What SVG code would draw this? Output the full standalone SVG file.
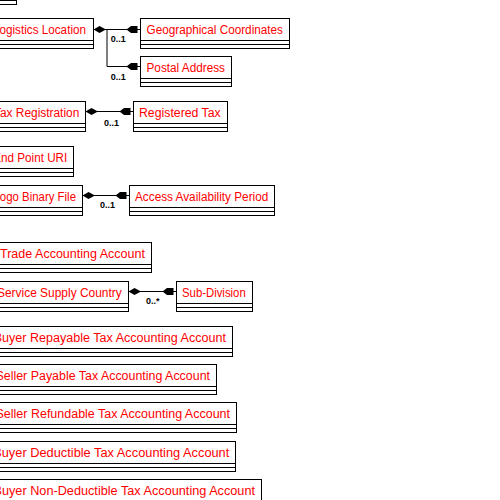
<svg xmlns="http://www.w3.org/2000/svg" width="500" height="500" viewBox="0 0 500 500">
  <style>
    .box{fill:#fff;stroke:#000;stroke-width:1}
    .sep{stroke:#000;stroke-width:1}
    .name{font-family:"Liberation Sans",Arial,sans-serif;font-size:12.5px;fill:#f00}
    .mult{font-family:"Liberation Sans",Arial,sans-serif;font-size:9px;font-weight:bold;fill:#000}
    .conn{fill:none;stroke:#000;stroke-width:1}
    .comp{marker-start:url(#diamond);marker-end:url(#arrow)}
    .nav{marker-end:url(#arrow)}
  </style>
  <defs>
    <!-- composition diamond at the owning class -->
    <marker id="diamond" markerUnits="userSpaceOnUse" markerWidth="16" markerHeight="10" refX="0" refY="0" orient="auto" overflow="visible">
      <path d="M0,0 L6,-3.5 L12.5,0 L6,3.5 Z" fill="#000"/>
    </marker>
    <!-- navigability head near the target class -->
    <marker id="arrow" markerUnits="userSpaceOnUse" markerWidth="16" markerHeight="10" refX="0" refY="0" orient="auto" overflow="visible">
      <path d="M-14,0 L-9.5,-3.5 L-3,-3.5 L-3,3.5 L-9.5,3.5 Z" fill="#000"/>
    </marker>
  </defs>
  <rect width="500" height="500" fill="#fff"/>

  <g id="connectors">
    <path class="conn comp" d="M93.5,29.5 H140.5"/>
    <path class="conn nav" d="M107,29.5 V66.5 H140.5"/>
    <path class="conn comp" d="M85.5,111.5 H133.5"/>
    <path class="conn comp" d="M82.5,195.5 H129.5"/>
    <path class="conn comp" d="M128.5,291.5 H176.5"/>
    <text class="mult" x="110.7" y="42">0..1</text>
    <text class="mult" x="110.7" y="79.5">0..1</text>
    <text class="mult" x="104" y="126">0..1</text>
    <text class="mult" x="100" y="207.5">0..1</text>
    <text class="mult" x="146" y="303.5">0..*</text>
  </g>

  <g id="node-top">
    <rect class="box" x="-60.5" y="-25.5" width="77" height="30"/>
    <line class="sep" x1="-60.5" y1="-3.5" x2="16.5" y2="-3.5"/>
    <line class="sep" x1="-60.5" y1="0.5" x2="16.5" y2="0.5"/>
  </g>

  <g id="logistics-location">
    <rect class="box" x="-99.5" y="18.5" width="193" height="30"/>
    <line class="sep" x1="-99.5" y1="40.5" x2="93.5" y2="40.5"/>
    <line class="sep" x1="-99.5" y1="44.5" x2="93.5" y2="44.5"/>
    <text class="name" x="-7" y="34" textLength="93" lengthAdjust="spacingAndGlyphs">Logistics Location</text>
  </g>

  <g id="geographical-coordinates">
    <rect class="box" x="140.5" y="18.5" width="149" height="30"/>
    <line class="sep" x1="140.5" y1="40.5" x2="289.5" y2="40.5"/>
    <line class="sep" x1="140.5" y1="44.5" x2="289.5" y2="44.5"/>
    <text class="name" x="146.5" y="34" textLength="136.5" lengthAdjust="spacingAndGlyphs">Geographical Coordinates</text>
  </g>

  <g id="postal-address">
    <rect class="box" x="140.5" y="56.5" width="91" height="30"/>
    <line class="sep" x1="140.5" y1="78.5" x2="231.5" y2="78.5"/>
    <line class="sep" x1="140.5" y1="82.5" x2="231.5" y2="82.5"/>
    <text class="name" x="146.5" y="72" textLength="78.5" lengthAdjust="spacingAndGlyphs">Postal Address</text>
  </g>

  <g id="tax-registration">
    <rect class="box" x="-99.5" y="101.5" width="185" height="30"/>
    <line class="sep" x1="-99.5" y1="123.5" x2="85.5" y2="123.5"/>
    <line class="sep" x1="-99.5" y1="127.5" x2="85.5" y2="127.5"/>
    <text class="name" x="-6" y="117" textLength="85.3" lengthAdjust="spacingAndGlyphs">Tax Registration</text>
  </g>

  <g id="registered-tax">
    <rect class="box" x="133.5" y="101.5" width="94" height="30"/>
    <line class="sep" x1="133.5" y1="123.5" x2="227.5" y2="123.5"/>
    <line class="sep" x1="133.5" y1="127.5" x2="227.5" y2="127.5"/>
    <text class="name" x="139" y="117" textLength="81.7" lengthAdjust="spacingAndGlyphs">Registered Tax</text>
  </g>

  <g id="end-point-uri">
    <rect class="box" x="-99.5" y="146.5" width="173" height="30"/>
    <line class="sep" x1="-99.5" y1="168.5" x2="73.5" y2="168.5"/>
    <line class="sep" x1="-99.5" y1="172.5" x2="73.5" y2="172.5"/>
    <text class="name" x="-6.8" y="162" textLength="74.1" lengthAdjust="spacingAndGlyphs">End Point URI</text>
  </g>

  <g id="logo-binary-file">
    <rect class="box" x="-99.5" y="185.5" width="182" height="30"/>
    <line class="sep" x1="-99.5" y1="207.5" x2="82.5" y2="207.5"/>
    <line class="sep" x1="-99.5" y1="211.5" x2="82.5" y2="211.5"/>
    <text class="name" x="-6.5" y="201" textLength="82.5" lengthAdjust="spacingAndGlyphs">Logo Binary File</text>
  </g>

  <g id="access-availability-period">
    <rect class="box" x="129.5" y="185.5" width="145" height="30"/>
    <line class="sep" x1="129.5" y1="207.5" x2="274.5" y2="207.5"/>
    <line class="sep" x1="129.5" y1="211.5" x2="274.5" y2="211.5"/>
    <text class="name" x="135" y="201" textLength="133.3" lengthAdjust="spacingAndGlyphs">Access Availability Period</text>
  </g>

  <g id="trade-accounting-account">
    <rect class="box" x="-99.5" y="242.5" width="251" height="30"/>
    <line class="sep" x1="-99.5" y1="264.5" x2="151.5" y2="264.5"/>
    <line class="sep" x1="-99.5" y1="268.5" x2="151.5" y2="268.5"/>
    <text class="name" x="0" y="258" textLength="145" lengthAdjust="spacingAndGlyphs">Trade Accounting Account</text>
  </g>

  <g id="service-supply-country">
    <rect class="box" x="-99.5" y="281.5" width="228" height="30"/>
    <line class="sep" x1="-99.5" y1="303.5" x2="128.5" y2="303.5"/>
    <line class="sep" x1="-99.5" y1="307.5" x2="128.5" y2="307.5"/>
    <text class="name" x="-3" y="297" textLength="124.7" lengthAdjust="spacingAndGlyphs">Service Supply Country</text>
  </g>

  <g id="sub-division">
    <rect class="box" x="176.5" y="281.5" width="76" height="30"/>
    <line class="sep" x1="176.5" y1="303.5" x2="252.5" y2="303.5"/>
    <line class="sep" x1="176.5" y1="307.5" x2="252.5" y2="307.5"/>
    <text class="name" x="182" y="297" textLength="63.7" lengthAdjust="spacingAndGlyphs">Sub-Division</text>
  </g>

  <g id="buyer-repayable-tax-accounting-account">
    <rect class="box" x="-99.5" y="326.5" width="332" height="30"/>
    <line class="sep" x1="-99.5" y1="348.5" x2="232.5" y2="348.5"/>
    <line class="sep" x1="-99.5" y1="352.5" x2="232.5" y2="352.5"/>
    <text class="name" x="-6.3" y="342" textLength="232.3" lengthAdjust="spacingAndGlyphs">Buyer Repayable Tax Accounting Account</text>
  </g>

  <g id="seller-payable-tax-accounting-account">
    <rect class="box" x="-99.5" y="364.5" width="316" height="30"/>
    <line class="sep" x1="-99.5" y1="386.5" x2="216.5" y2="386.5"/>
    <line class="sep" x1="-99.5" y1="390.5" x2="216.5" y2="390.5"/>
    <text class="name" x="-4.5" y="380" textLength="214.5" lengthAdjust="spacingAndGlyphs">Seller Payable Tax Accounting Account</text>
  </g>

  <g id="seller-refundable-tax-accounting-account">
    <rect class="box" x="-99.5" y="402.5" width="336" height="30"/>
    <line class="sep" x1="-99.5" y1="424.5" x2="236.5" y2="424.5"/>
    <line class="sep" x1="-99.5" y1="428.5" x2="236.5" y2="428.5"/>
    <text class="name" x="-4.5" y="418" textLength="234.5" lengthAdjust="spacingAndGlyphs">Seller Refundable Tax Accounting Account</text>
  </g>

  <g id="buyer-deductible-tax-accounting-account">
    <rect class="box" x="-99.5" y="441.5" width="335" height="30"/>
    <line class="sep" x1="-99.5" y1="463.5" x2="235.5" y2="463.5"/>
    <line class="sep" x1="-99.5" y1="467.5" x2="235.5" y2="467.5"/>
    <text class="name" x="-6.8" y="457" textLength="236.1" lengthAdjust="spacingAndGlyphs">Buyer Deductible Tax Accounting Account</text>
  </g>

  <g id="buyer-non-deductible-tax-accounting-account">
    <rect class="box" x="-99.5" y="479.5" width="361" height="30"/>
    <line class="sep" x1="-99.5" y1="501.5" x2="261.5" y2="501.5"/>
    <line class="sep" x1="-99.5" y1="505.5" x2="261.5" y2="505.5"/>
    <text class="name" x="-6.5" y="495" textLength="261.5" lengthAdjust="spacingAndGlyphs">Buyer Non-Deductible Tax Accounting Account</text>
  </g>
</svg>
